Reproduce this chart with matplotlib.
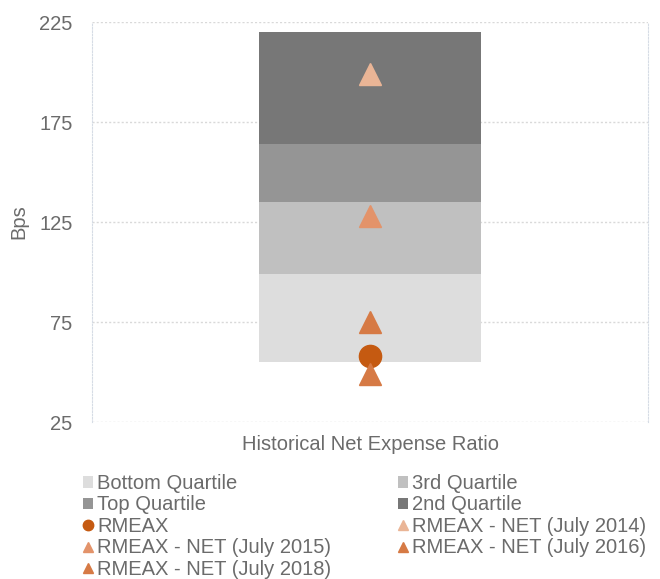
import matplotlib.pyplot as plt
from matplotlib.lines import Line2D
from matplotlib.patches import Patch

plt.rcParams['font.family'] = ['Liberation Sans', 'DejaVu Sans']

# 数据
category = 'Historical Net Expense Ratio'
quartile_names = ['Bottom Quartile', '3rd Quartile', 'Top Quartile', '2nd Quartile']
quartile_base = 55
quartile_heights = [44, 36, 29, 56]
quartile_colors = ['#dddddd', '#c0c0c0', '#959595', '#777777']

marker_names = ['RMEAX', 'RMEAX - NET (July 2014)', 'RMEAX - NET (July 2015)',
                'RMEAX - NET (July 2016)', 'RMEAX - NET (July 2018)']
marker_values = [58, 199, 128, 75, 49]
marker_shapes = ['o', '^', '^', '^', '^']
marker_colors = ['#c55a11', '#eab596', '#e3936a', '#d67a45', '#d67a45']

text_color = '#6b6b6b'

fig = plt.figure(figsize=(6.6, 5.79), dpi=100)
ax = fig.add_axes([92 / 660, 1 - 422 / 579, 556 / 660, 400 / 579])

# 堆叠柱
bottom = quartile_base
bar_handles = []
for name, h, c in zip(quartile_names, quartile_heights, quartile_colors):
    ax.bar([category], [h], bottom=bottom, width=0.4, color=c, zorder=2)
    bar_handles.append(Patch(facecolor=c, label=name))
    bottom += h

# 标记点
mk_handles = []
for name, v, m, c in zip(marker_names, marker_values, marker_shapes, marker_colors):
    ax.plot([category], [v], marker=m, color=c, markersize=16, linestyle='none', zorder=3)
    mk_handles.append(Line2D([], [], marker=m, color=c, markersize=7.5, linestyle='none', label=name))

ax.set_xlim(-0.5, 0.5)
ax.set_ylim(25, 225)
ax.set_yticks([25, 75, 125, 175, 225])
ax.set_ylabel('Bps', fontsize=14.5, color=text_color, labelpad=8)
ax.tick_params(axis='both', length=0, labelsize=14.5, labelcolor=text_color)
ax.tick_params(axis='y', pad=14)
ax.tick_params(axis='x', pad=9)
ax.grid(axis='y', linestyle=(0, (1.5, 1.5)), color='#d9d9d9', linewidth=1, zorder=0)
for side in ['top', 'bottom']:
    ax.spines[side].set_visible(False)
for side in ['left', 'right']:
    ax.spines[side].set_linestyle((0, (1.5, 1.5)))
    ax.spines[side].set_color('#d6dce5')

# 图例 (按列排列)
all_handles = bar_handles + mk_handles
order = [0, 2, 4, 6, 8, 1, 3, 5, 7]
leg = fig.legend(handles=[all_handles[i] for i in order], ncol=2,
                 loc='upper left', bbox_to_anchor=(83 / 660, 1 - 474 / 579),
                 frameon=False, fontsize=14.5, handlelength=0.5, handleheight=0.5,
                 handletextpad=0.2, columnspacing=3.3, labelspacing=0.12,
                 borderaxespad=0, borderpad=0)
for t in leg.get_texts():
    t.set_color(text_color)

plt.savefig('out.png', dpi=100)
